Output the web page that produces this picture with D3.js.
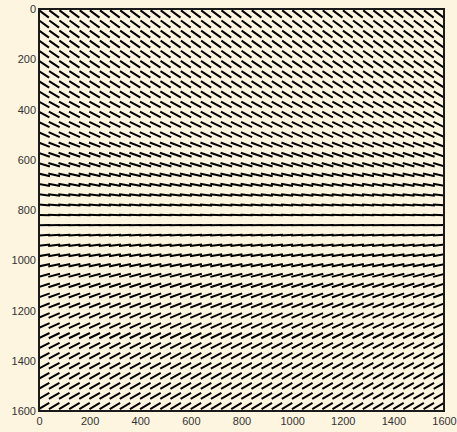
<!DOCTYPE html>
<html>
<head>
<meta charset="utf-8">
<script src="https://cdn.jsdelivr.net/npm/d3@7"></script>
<style>
  html, body { margin: 0; padding: 0; background: #fdf5e0; }
  svg { display: block; }
  .tick text { font-family: "Liberation Sans", Arial, sans-serif; font-size: 11px; fill: #333; }
</style>
</head>
<body>
<div class="chart"></div>
<script>
// sample columns (data x) and rows (data y)
const colX = [20, 60, 100, 140, 180, 220, 260, 300, 340, 380, 420, 460, 500, 540, 580, 620,
  660, 700, 740, 780, 820, 860, 900, 940, 980, 1020, 1060, 1100, 1140, 1180, 1220, 1260,
  1300, 1340, 1380, 1420, 1460, 1500, 1540, 1580];
const rowY = [20, 60, 100, 140, 180, 220, 260, 300, 340, 380, 420, 460, 500, 540, 580, 620,
  660, 700, 740, 780, 820, 860, 900, 940, 980, 1020, 1060, 1100, 1140, 1180, 1220, 1260,
  1300, 1340, 1380, 1420, 1460, 1500, 1540, 1580];
// direction of the segments in each row, degrees (positive = down to the right)
const rowAngle = [37, 36.5, 36, 35.5, 35, 34, 33, 32, 31, 29.5,
  28, 26, 24, 21.5, 19, 16.5, 13.5, 10.5, 7.5, 4.5,
  1.5, -1.5, -4, -7, -10, -12.5, -15, -17.5, -19.5, -21.5,
  -23, -24.5, -26, -27, -28, -29, -29.5, -30, -30.5, -31];
const xTicks = [0, 200, 400, 600, 800, 1000, 1200, 1400, 1600];
const yTicks = [0, 200, 400, 600, 800, 1000, 1200, 1400, 1600];

const segLen = 48; // data units

const width = 457;
const height = 432;
const margin = { top: 9, right: 13, bottom: 21, left: 39 };

const x = d3.scaleLinear().domain([0, 1600]).range([margin.left, width - margin.right]);
const y = d3.scaleLinear().domain([0, 1600]).range([margin.top, height - margin.bottom]);

const svg = d3
  .select(".chart")
  .append("svg")
  .attr("width", width)
  .attr("height", height);

svg.append("rect")
  .attr("width", width)
  .attr("height", height)
  .attr("fill", "#fdf5e0");

// build segments
let segs = [];
rowY.forEach((ry, i) => {
  const a = rowAngle[i] * Math.PI / 180;
  const hx = Math.cos(a) * segLen / 2;
  const hy = Math.sin(a) * segLen / 2;
  colX.forEach((cx) => {
    segs.push({ x1: cx - hx, y1: ry - hy, x2: cx + hx, y2: ry + hy });
  });
});

const plot = svg.append("g");

plot.append("clipPath")
  .attr("id", "clip")
  .append("rect")
  .attr("x", x(0))
  .attr("y", y(0))
  .attr("width", x(1600) - x(0))
  .attr("height", y(1600) - y(0));

plot.append("g")
  .attr("clip-path", "url(#clip)")
  .selectAll("line")
  .data(segs)
  .join("line")
  .attr("x1", (d) => x(d.x1))
  .attr("y1", (d) => y(d.y1))
  .attr("x2", (d) => x(d.x2))
  .attr("y2", (d) => y(d.y2))
  .attr("stroke", "#000")
  .attr("stroke-width", 2);

// axes
svg.append("g")
  .attr("transform", `translate(0,${height - margin.bottom})`)
  .call(d3.axisBottom(x).tickValues(xTicks).tickFormat(d3.format("d")).tickSize(0).tickPadding(6))
  .call((g) => g.select(".domain").remove());

svg.append("g")
  .attr("transform", `translate(${margin.left},0)`)
  .call(d3.axisLeft(y).tickValues(yTicks).tickFormat(d3.format("d")).tickSize(0).tickPadding(3))
  .call((g) => g.select(".domain").remove());

svg.append("rect")
  .attr("x", x(0))
  .attr("y", y(0))
  .attr("width", x(1600) - x(0))
  .attr("height", y(1600) - y(0))
  .attr("fill", "none")
  .attr("stroke", "#1a1a1a")
  .attr("stroke-width", 2);
</script>
</body>
</html>
